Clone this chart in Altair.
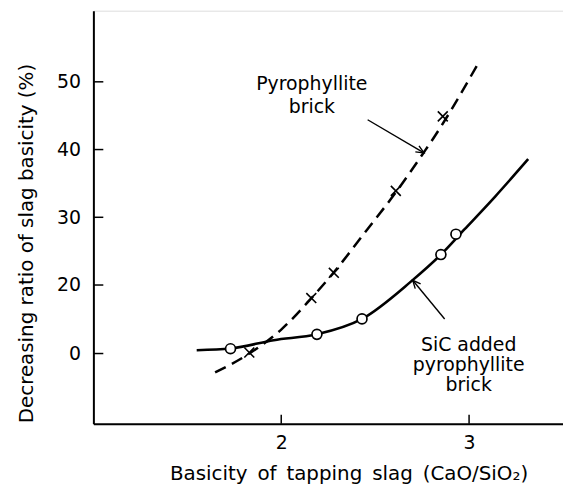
import altair as alt
import pandas as pd

# ---- measured points ----
sic_x = [1.73, 2.19, 2.43, 2.85, 2.93]
sic_y = [1.4, 5.6, 10.1, 24.5, 27.5]
pyro_x = [1.83, 2.16, 2.28, 2.61, 2.86]
pyro_y = [0.3, 16.2, 21.8, 33.9, 44.9]

# ---- traced curves ----
sic_curve_x = [1.55, 1.73, 1.96, 2.19, 2.43, 2.69, 2.85, 2.975, 3.14, 3.315]
sic_curve_y = [0.96, 1.45, 3.9, 5.6, 10.1, 20.5, 24.5, 28.2, 33.1, 38.6]
pyro_curve_x = [1.648, 1.833, 2.0, 2.158, 2.278, 2.458, 2.616, 2.757, 2.818, 3.048]
pyro_curve_y = [-2.77, 0.1, 7.0, 16.0, 21.8, 28.2, 33.9, 39.5, 42.0, 52.7]

# ---- axes ----
x_ticks = [2, 3]
y_ticks = [0, 20, 30, 40, 50]

# ---- annotation arrows (tail -> tip) ----
arrow_x1 = [2.46, 2.87]
arrow_y1 = [44.4, 10.1]
arrow_x2 = [2.76, 2.70]
arrow_y2 = [39.5, 20.7]
arrow_angle = [31, 229]

W, H = 473, 416
xs = alt.Scale(domain=[1.0, 3.5], nice=False, zero=False)
ys = alt.Scale(domain=[-10.3, 0, 20, 60.5], range=[H, 345.3, 276.3, 0], nice=False, zero=False)

FONT = "DejaVu Sans"

sic_curve = pd.DataFrame({"x": sic_curve_x, "y": sic_curve_y})
pyro_curve = pd.DataFrame({"x": pyro_curve_x, "y": pyro_curve_y})
sic_pts = pd.DataFrame({"x": sic_x, "y": sic_y})
pyro_pts = pd.DataFrame({"x": pyro_x, "y": pyro_y})
arrows = pd.DataFrame({"x": arrow_x1, "y": arrow_y1, "x2": arrow_x2, "y2": arrow_y2, "a": arrow_angle})

xaxis = alt.Axis(values=x_ticks, format="d", ticks=False, tickSize=0, grid=False, labelFontSize=19,
                 labelPadding=10, labelColor="black", domainColor="black", domainWidth=2,
                 title="Basicity\u2002of\u2002tapping\u2002slag\u2002(CaO/SiO\u2082)",
                 titleFontSize=20, titleFontWeight="normal", titleColor="black",
                 titleX=257, titleY=56, titleBaseline="alphabetic", titleAlign="center")
yaxis = alt.Axis(values=y_ticks, format="d", ticks=False, tickSize=0, grid=False, labelFontSize=19,
                 labelPadding=13, labelColor="black", domainColor="black", domainWidth=2,
                 title="Decreasing ratio of slag basicity (%)",
                 titleFontSize=20, titleFontWeight="normal", titleColor="black",
                 titleAngle=270, titleX=-61, titleY=234, titleBaseline="alphabetic",
                 titleAlign="center")

base_sic = alt.Chart(sic_curve).mark_line(color="black", strokeWidth=2.6, interpolate="monotone").encode(
    x=alt.X("x:Q", scale=xs, axis=xaxis),
    y=alt.Y("y:Q", scale=ys, axis=yaxis),
)
pyro_line = alt.Chart(pyro_curve).mark_line(color="black", strokeWidth=2.5, strokeDash=[12, 7],
                                            interpolate="monotone").encode(
    x=alt.X("x:Q", scale=xs), y=alt.Y("y:Q", scale=ys))

arrow_lines = alt.Chart(arrows).mark_rule(color="black", strokeWidth=1.4).encode(
    x=alt.X("x:Q", scale=xs), y=alt.Y("y:Q", scale=ys), x2="x2:Q", y2="y2:Q")
arrow_heads = alt.Chart(arrows).mark_point(shape="M-1,-0.45L0,0L-1,0.45", filled=False,
                                           color="black", strokeWidth=1.4, size=256, opacity=1).encode(
    x=alt.X("x2:Q", scale=xs), y=alt.Y("y2:Q", scale=ys), angle=alt.Angle("a:Q", scale=None))

circles = alt.Chart(sic_pts).mark_point(shape="circle", filled=True, fill="white", stroke="black",
                                        strokeWidth=1.7, size=100, opacity=1).encode(
    x=alt.X("x:Q", scale=xs), y=alt.Y("y:Q", scale=ys))
crosses = alt.Chart(pyro_pts).mark_point(shape="M-1,-1L1,1M-1,1L1,-1", filled=False, color="black",
                                         strokeWidth=1.6, size=100, opacity=1).encode(
    x=alt.X("x:Q", scale=xs), y=alt.Y("y:Q", scale=ys))

ytick_df = pd.DataFrame({"v": y_ticks})
xtick_df = pd.DataFrame({"v": x_ticks})
yticks = alt.Chart(ytick_df).mark_rule(color="black", strokeWidth=1.5).encode(
    y=alt.Y("v:Q", scale=ys), x=alt.value(0), x2=alt.value(10))
xticks = alt.Chart(xtick_df).mark_rule(color="black", strokeWidth=1.5).encode(
    x=alt.X("v:Q", scale=xs), y=alt.value(H), y2=alt.value(H - 9))

label_pyro = alt.Chart().mark_text(text=["Pyrophyllite", "brick"], font=FONT, fontSize=19,
                                   align="center", baseline="alphabetic", lineHeight=23,
                                   color="black").encode(x=alt.value(220), y=alt.value(80))
label_sic = alt.Chart().mark_text(text=["SiC added", "pyrophyllite", "brick"], font=FONT, fontSize=19,
                                  align="center", baseline="alphabetic", lineHeight=20,
                                  color="black").encode(x=alt.value(378), y=alt.value(343))

chart = alt.layer(base_sic, pyro_line, arrow_lines, arrow_heads, circles, crosses,
                  yticks, xticks, label_pyro, label_sic).properties(
    width=W, height=H,
    autosize=alt.AutoSizeParams(type="none"),
    padding={"left": 86, "top": 1, "right": 0, "bottom": 60},
    background="white",
).configure_view(stroke=None).configure(font=FONT)

chart.save("out.html", embed_options={"renderer": "svg", "actions": False})
